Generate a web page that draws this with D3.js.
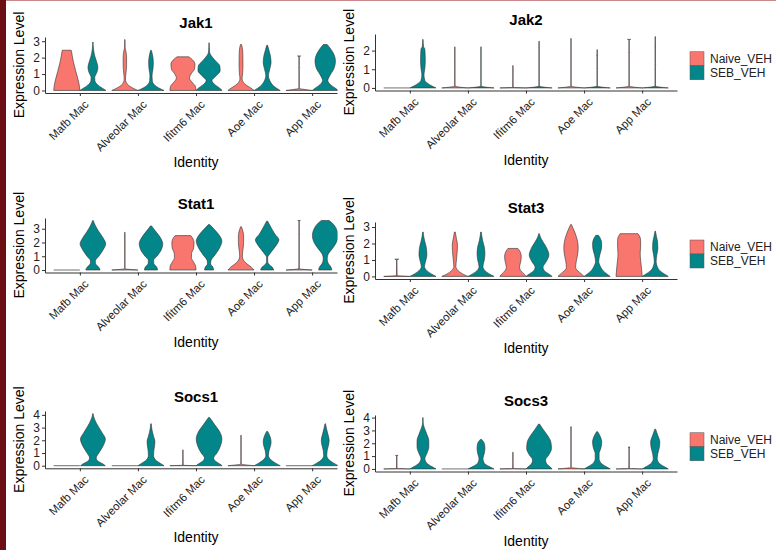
<!DOCTYPE html>
<html>
<head>
<meta charset="utf-8">
<script src="https://cdn.jsdelivr.net/npm/d3@7"></script>
<style>
body { margin: 0; background: #fff; }
svg { display: block; }
text { font-family: "Liberation Sans", Arial, sans-serif; }
</style>
</head>
<body>
<svg id="chart"></svg>
<script>
var genes = ["Jak1", "Jak2", "Stat1", "Stat3", "Socs1", "Socs3"];
var identities = ["Mafb Mac", "Alveolar Mac", "Ifitm6 Mac", "Aoe Mac", "App Mac"];
var groups = ["Naive_VEH", "SEB_VEH"];

// each violin: [expression level, relative half width], bottom to top
var jak1Naive = [
  [[0,1],[0.3,0.96],[0.7,0.85],[1.2,0.68],[1.7,0.52],[2.1,0.42],[2.35,0.37],[2.45,0.34]],
  [[0,1],[0.15,0.6],[0.3,0.3],[0.5,0.1],[0.7,0.05],[1.0,0.08],[1.5,0.13],[2.0,0.13],[2.4,0.08],[2.6,0.02],[3.1,0.01]],
  [[0,1],[0.25,0.95],[0.5,0.7],[0.75,0.5],[1.0,0.62],[1.3,0.88],[1.6,0.92],[1.85,0.75],[2.05,0.45]],
  [[0,1],[0.15,0.75],[0.3,0.45],[0.5,0.18],[0.7,0.08],[1.0,0.12],[1.5,0.15],[2.2,0.14],[2.6,0.1],[2.8,0.04]],
  [[0,1],[0.06,0.45],[0.12,0.01],[1.35,0.01],[1.4,0.05],[1.45,0.01],[2.05,0.01],[2.1,0.12]]
];
var jak1Seb = [
  [[0,1],[0.15,0.7],[0.35,0.35],[0.6,0.15],[0.8,0.14],[1.1,0.3],[1.4,0.38],[1.7,0.3],[2.1,0.14],[2.5,0.05],[2.75,0.02],[2.95,0.01]],
  [[0,1],[0.15,0.6],[0.35,0.25],[0.6,0.1],[0.9,0.08],[1.3,0.15],[1.7,0.18],[2.1,0.13],[2.35,0.06],[2.45,0.02]],
  [[0,1],[0.15,0.8],[0.35,0.45],[0.6,0.22],[0.9,0.55],[1.2,0.85],[1.5,0.82],[1.8,0.5],[2.1,0.18],[2.3,0.05],[2.6,0.02],[2.9,0.01]],
  [[0,1],[0.15,0.7],[0.35,0.4],[0.6,0.2],[0.9,0.1],[1.3,0.2],[1.7,0.3],[2.1,0.25],[2.5,0.12],[2.75,0.03]],
  [[0,1],[0.15,0.75],[0.35,0.4],[0.6,0.2],[0.9,0.35],[1.3,0.65],[1.8,0.78],[2.3,0.6],[2.6,0.35],[2.8,0.15]]
];
var jak2Naive = [
  [[0,1]],
  [[0,1],[0.05,0.3],[0.1,0.01],[1.0,0.01],[1.05,0.03],[1.1,0.01],[1.6,0.01],[1.65,0.03],[1.7,0.01],[2.2,0.01]],
  [[0,1],[0.03,0.02],[0.5,0.01],[0.55,0.04],[0.6,0.01],[1.2,0.01]],
  [[0,1],[0.05,0.3],[0.1,0.01],[2.65,0.01]],
  [[0,1],[0.05,0.3],[0.1,0.01],[1.85,0.01],[1.9,0.05],[1.95,0.01],[2.55,0.01],[2.6,0.12]]
];
var jak2Seb = [
  [[0,1],[0.1,0.7],[0.25,0.35],[0.4,0.15],[0.7,0.08],[1.0,0.14],[1.4,0.18],[1.8,0.17],[2.1,0.14],[2.2,0.05],[2.6,0.01]],
  [[0,1],[0.05,0.3],[0.1,0.01],[2.2,0.01]],
  [[0,1],[0.05,0.3],[0.1,0.01],[2.5,0.01]],
  [[0,1],[0.05,0.3],[0.1,0.01],[1.0,0.01],[1.05,0.03],[1.1,0.01],[1.7,0.01],[1.75,0.04],[1.8,0.01],[2.05,0.01]],
  [[0,1],[0.05,0.3],[0.1,0.01],[1.2,0.01],[1.25,0.03],[1.3,0.01],[2.15,0.01],[2.2,0.03],[2.25,0.01],[2.75,0.01]]
];
var stat1Naive = [
  [[0,1]],
  [[0,1],[0.05,0.3],[0.1,0.01],[2.75,0.01]],
  [[0,1],[0.3,0.97],[0.6,0.8],[0.9,0.65],[1.2,0.66],[1.6,0.82],[2.0,0.85],[2.3,0.75],[2.5,0.6]],
  [[0,1],[0.2,0.8],[0.45,0.45],[0.7,0.2],[1.0,0.1],[1.5,0.15],[2.0,0.2],[2.5,0.2],[2.9,0.12],[3.15,0.03]],
  [[0,1],[0.05,0.3],[0.1,0.01],[2.55,0.01],[2.6,0.05],[2.65,0.01],[3.55,0.01],[3.6,0.1]]
];
var stat1Seb = [
  [[0,0.55],[0.2,0.45],[0.45,0.2],[0.65,0.18],[1.0,0.45],[1.5,0.8],[1.9,0.98],[2.3,0.8],[2.8,0.45],[3.2,0.2],[3.6,0.02]],
  [[0,0.5],[0.2,0.45],[0.45,0.22],[0.7,0.2],[1.0,0.45],[1.5,0.8],[1.9,0.9],[2.3,0.75],[2.7,0.45],[3.0,0.2],[3.2,0.05]],
  [[0,0.35],[0.2,0.3],[0.45,0.12],[0.7,0.15],[1.1,0.45],[1.6,0.8],[2.1,0.98],[2.5,0.8],[2.9,0.45],[3.3,0.05]],
  [[0,0.5],[0.2,0.4],[0.4,0.15],[0.6,0.04],[0.9,0.04],[1.3,0.3],[1.8,0.7],[2.2,0.9],[2.6,0.6],[3.0,0.35],[3.55,0.04]],
  [[0,0.5],[0.2,0.45],[0.45,0.25],[0.8,0.15],[1.1,0.2],[1.5,0.5],[2.0,0.85],[2.5,0.98],[3.0,0.85],[3.4,0.55],[3.6,0.3]]
];
var stat3Naive = [
  [[0,1],[0.05,0.03],[1.0,0.01],[1.05,0.15]],
  [[0,1],[0.15,0.6],[0.35,0.25],[0.6,0.08],[1.0,0.12],[1.5,0.18],[1.9,0.2],[2.3,0.12],[2.7,0.03]],
  [[0,1],[0.15,0.85],[0.35,0.6],[0.55,0.5],[0.85,0.58],[1.2,0.64],[1.5,0.55],[1.7,0.38]],
  [[0,1],[0.15,0.8],[0.35,0.5],[0.55,0.35],[0.9,0.4],[1.4,0.52],[1.8,0.55],[2.3,0.45],[2.7,0.28],[3.15,0.03]],
  [[0,1],[0.5,0.95],[1.0,0.88],[1.4,0.85],[1.8,0.88],[2.2,0.88],[2.45,0.8],[2.6,0.68]]
];
var stat3Seb = [
  [[0,1],[0.15,0.65],[0.35,0.3],[0.6,0.12],[0.9,0.2],[1.3,0.3],[1.7,0.27],[2.1,0.15],[2.4,0.07],[2.7,0.02]],
  [[0,1],[0.15,0.65],[0.35,0.3],[0.6,0.15],[1.0,0.25],[1.4,0.3],[1.8,0.25],[2.2,0.12],[2.7,0.02]],
  [[0,1],[0.15,0.75],[0.35,0.4],[0.55,0.3],[0.9,0.55],[1.3,0.75],[1.7,0.6],[2.1,0.3],[2.4,0.1],[2.6,0.02]],
  [[0,1],[0.15,0.75],[0.35,0.45],[0.6,0.25],[0.9,0.12],[1.3,0.2],[1.7,0.33],[2.0,0.35],[2.3,0.25],[2.5,0.1]],
  [[0,1],[0.15,0.7],[0.35,0.35],[0.6,0.15],[0.9,0.07],[1.3,0.12],[1.7,0.2],[2.1,0.18],[2.4,0.1],[2.75,0.02]]
];
var socs1Naive = [
  [[0,1]],
  [[0,1]],
  [[0,1],[0.04,0.02],[1.25,0.01]],
  [[0,1],[0.06,0.4],[0.12,0.01],[2.4,0.01]],
  [[0,1]]
];
var socs1Seb = [
  [[0,0.95],[0.15,0.75],[0.35,0.4],[0.6,0.25],[1.0,0.45],[1.5,0.75],[2.1,0.95],[2.6,0.7],[3.1,0.4],[3.6,0.15],[3.9,0.05],[4.1,0.01]],
  [[0,1],[0.2,0.7],[0.45,0.35],[0.8,0.2],[1.2,0.22],[1.6,0.28],[1.9,0.3],[2.3,0.2],[2.8,0.08],[3.3,0.02]],
  [[0,1],[0.15,0.8],[0.35,0.5],[0.6,0.35],[1.0,0.6],[1.5,0.85],[2.1,0.98],[2.7,0.8],[3.2,0.45],[3.6,0.18],[3.8,0.04]],
  [[0,1],[0.2,0.65],[0.45,0.3],[0.8,0.1],[1.2,0.15],[1.6,0.27],[1.9,0.3],[2.3,0.22],[2.7,0.04]],
  [[0,1],[0.2,0.65],[0.45,0.3],[0.8,0.12],[1.2,0.15],[1.6,0.25],[2.0,0.3],[2.5,0.2],[2.9,0.1],[3.3,0.02]]
];
var socs3Naive = [
  [[0,1],[0.04,0.02],[1.0,0.01],[1.05,0.1]],
  [[0,1]],
  [[0,1],[0.04,0.02],[0.6,0.01],[0.65,0.03],[0.7,0.01],[1.3,0.01]],
  [[0,1],[0.06,0.35],[0.12,0.01],[3.3,0.01]],
  [[0,1],[0.04,0.02],[1.65,0.01],[1.7,0.08]]
];
var socs3Seb = [
  [[0,1],[0.2,0.65],[0.45,0.3],[0.8,0.15],[1.2,0.3],[1.7,0.45],[2.2,0.45],[2.7,0.3],[3.1,0.15],[3.4,0.05],[3.6,0.02],[4.0,0.01]],
  [[0,1],[0.2,0.6],[0.45,0.25],[0.8,0.15],[1.2,0.25],[1.6,0.3],[2.0,0.25],[2.3,0.05]],
  [[0,1],[0.2,0.8],[0.45,0.55],[0.7,0.5],[1.1,0.75],[1.6,0.95],[2.1,0.9],[2.6,0.65],[3.1,0.3],[3.5,0.03]],
  [[0,1],[0.2,0.65],[0.45,0.3],[0.8,0.15],[1.2,0.15],[1.6,0.28],[2.1,0.35],[2.5,0.25],[2.9,0.04]],
  [[0,1],[0.2,0.65],[0.45,0.3],[0.8,0.15],[1.2,0.2],[1.7,0.32],[2.1,0.35],[2.6,0.2],[3.1,0.03]]
];

var geneData = {
  "Jak1": [jak1Naive, jak1Seb],
  "Jak2": [jak2Naive, jak2Seb],
  "Stat1": [stat1Naive, stat1Seb],
  "Stat3": [stat3Naive, stat3Seb],
  "Socs1": [socs1Naive, socs1Seb],
  "Socs3": [socs3Naive, socs3Seb]
};

var colorMap = { "Naive_VEH": "#F8766D", "SEB_VEH": "#03868A" };

// panel boxes (plot area) in the 776x550 page
var layout = [
  { left: 45,  top: 37,  bottom: 93,    clip: true },
  { left: 375, top: 34,  bottom: 90.5,  legend: true },
  { left: 45,  top: 218, bottom: 272.5, clip: true },
  { left: 375, top: 222, bottom: 279,   legend: true },
  { left: 45,  top: 411, bottom: 468.3, clip: true },
  { left: 375, top: 415, bottom: 471.5, legend: true }
];
var plotWidth = 302;

var width = 776, height = 550;

var svg = d3.select("#chart")
    .attr("width", width)
    .attr("height", height);

svg.append("rect")
    .attr("width", width)
    .attr("height", height)
    .attr("fill", "white");

svg.append("clipPath")
    .attr("id", "leftClip")
    .append("rect")
    .attr("x", 0).attr("y", 0)
    .attr("width", 337.5).attr("height", height);

genes.forEach(function(gene, i) {
    var box = layout[i];
    var series = geneData[gene];

    var maxVal = d3.max(series, function(s) {
        return d3.max(s, function(v) { return v[v.length - 1][0]; });
    });

    var x = d3.scalePoint()
        .domain(identities)
        .range([box.left, box.left + plotWidth])
        .padding(0.6);

    var dodge = d3.scaleBand()
        .domain(groups)
        .range([-0.45 * x.step(), 0.45 * x.step()]);

    var y = d3.scaleLinear()
        .domain([-0.05 * maxVal, 1.05 * maxVal])
        .range([box.bottom, box.top]);

    var g = svg.append("g");
    var plot = g.append("g");
    if (box.clip) plot.attr("clip-path", "url(#leftClip)");

    var half = dodge.bandwidth() / 2;

    groups.forEach(function(group, gi) {
        series[gi].forEach(function(profile, ci) {
            var cx = x(identities[ci]) + dodge(group) + half;
            if (profile.length === 1) {
                // all cells at zero: the violin collapses to a flat line
                plot.append("line")
                    .attr("x1", cx - half).attr("x2", cx + half)
                    .attr("y1", y(0)).attr("y2", y(0))
                    .attr("stroke", "#333")
                    .attr("stroke-width", 0.7);
                return;
            }
            var area = d3.area()
                .y(function(d) { return y(d[0]); })
                .x0(function(d) { return cx - d[1] * half; })
                .x1(function(d) { return cx + d[1] * half; })
                .curve(d3.curveMonotoneY);
            plot.append("path")
                .datum(profile)
                .attr("d", area)
                .attr("fill", colorMap[group])
                .attr("stroke", "#333")
                .attr("stroke-width", 0.6);
        });
    });

    // axes
    var yAxis = g.append("g")
        .attr("transform", "translate(" + box.left + ",0)")
        .call(d3.axisLeft(y)
            .tickValues(d3.range(0, Math.floor(maxVal) + 1))
            .tickFormat(d3.format("d"))
            .tickSize(3)
            .tickSizeOuter(0)
            .tickPadding(2));

    var xAxis = plot.append("g")
        .attr("transform", "translate(0," + box.bottom + ")")
        .call(d3.axisBottom(x).tickSize(3).tickSizeOuter(0).tickPadding(2));

    [yAxis, xAxis].forEach(function(ax) {
        ax.select(".domain").attr("stroke", "#333").attr("stroke-width", 1);
        ax.selectAll(".tick line").attr("stroke", "#333");
        ax.selectAll("text")
            .attr("fill", "#222")
            .style("font-size", "11.5px");
    });
    yAxis.selectAll("text").style("font-size", "12px");

    xAxis.selectAll("text")
        .attr("y", 0)
        .attr("dy", "0.75em")
        .attr("text-anchor", "end")
        .attr("transform", "translate(3,6) rotate(-45)");

    // titles
    g.append("text")
        .attr("x", box.left + plotWidth / 2)
        .attr("y", box.top - 8.7)
        .attr("text-anchor", "middle")
        .style("font-size", "15px")
        .style("font-weight", "bold")
        .text(gene);

    g.append("text")
        .attr("x", box.left + plotWidth / 2)
        .attr("y", box.bottom + 74)
        .attr("text-anchor", "middle")
        .style("font-size", "14px")
        .text("Identity");

    g.append("text")
        .attr("transform", "translate(" + (box.left - 21) + "," + ((box.top + box.bottom) / 2) + ") rotate(-90)")
        .attr("text-anchor", "middle")
        .style("font-size", "14px")
        .text("Expression Level");

    if (box.legend) {
        var key = 14;
        var ly = (box.top + box.bottom) / 2 + 3.5 - key;
        var legend = g.selectAll(".legendItem")
            .data(groups)
            .enter()
            .append("g")
            .attr("class", "legendItem")
            .attr("transform", function(d, k) { return "translate(690," + (ly + k * key) + ")"; });
        legend.append("rect")
            .attr("width", key)
            .attr("height", key)
            .attr("fill", function(d) { return colorMap[d]; })
            .attr("stroke", "#555")
            .attr("stroke-width", 0.5);
        legend.append("text")
            .attr("x", key + 6)
            .attr("y", key / 2)
            .attr("dy", "0.35em")
            .style("font-size", "12px")
            .attr("fill", "#222")
            .text(function(d) { return d; });
    }
});

// frame of the original screenshot
svg.append("rect")
    .attr("x", 0).attr("y", 0)
    .attr("width", width).attr("height", 1)
    .attr("fill", "#c9898c");
svg.append("rect")
    .attr("x", 0).attr("y", 0)
    .attr("width", 6).attr("height", height)
    .attr("fill", "#6b0f15");
</script>
</body>
</html>
